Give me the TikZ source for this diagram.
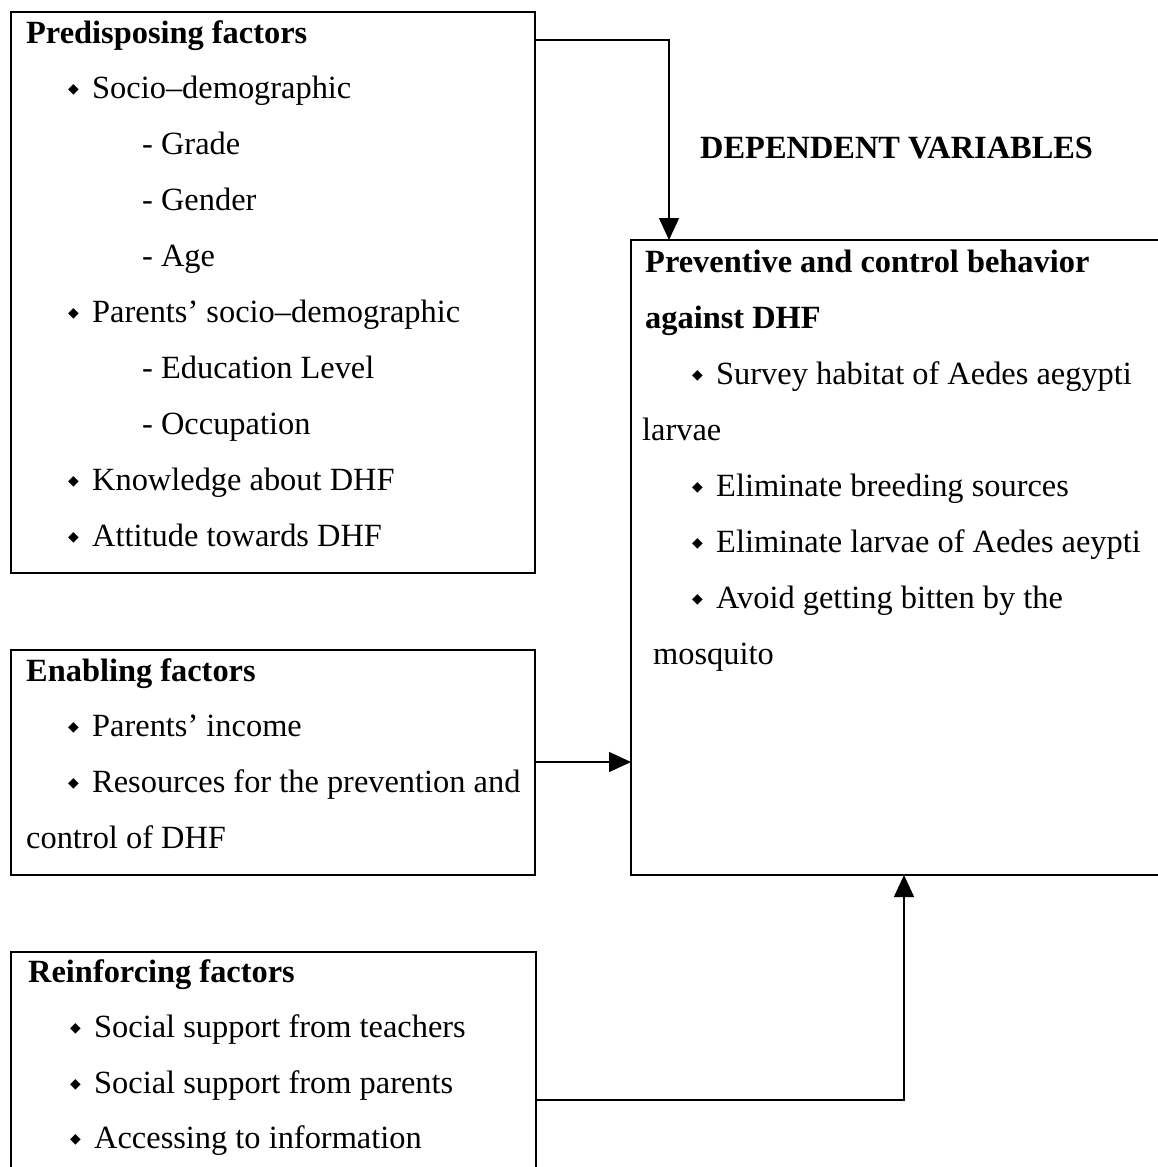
\documentclass[tikz,border=0pt]{standalone}
\usepackage{fontspec}
\setmainfont{Liberation Serif}
\newfontfamily\dejavu{DejaVu Sans}
\usetikzlibrary{arrows.meta}
\newcommand{\dmd}{\makebox[24pt][l]{\dejavu\fontsize{14}{14}\selectfont\raisebox{5pt}{◆}}}
\tikzset{
  box/.style={draw, line width=1.4pt, anchor=north west, inner sep=0pt, outer sep=0pt},
  txt/.style={anchor=base west, inner sep=0pt, font=\fontsize{32.4}{32.4}\selectfont},
  hd/.style={txt, font=\fontsize{32.4}{32.4}\selectfont\bfseries},
  conn/.style={line width=1.4pt, -{Triangle[length=22pt,width=20pt]}},
}
\begin{document}
\begin{tikzpicture}[x=1pt,y=-1pt]
\useasboundingbox (0,0) rectangle (1157,1167);
% boxes
\node[box, minimum width=524pt, minimum height=561pt] (pre) at (11,12) {};
\node[box, minimum width=524pt, minimum height=225pt] (ena) at (11,650) {};
\node[box, minimum width=525pt, minimum height=240pt] (rei) at (11,952) {};
\node[box, minimum width=560pt, minimum height=635pt] (dep) at (631,240) {};
% predisposing
\node[hd] (p0) at (26,43) {Predisposing factors};
\node[txt] (p1) at (68,98) {\dmd Socio–demographic};
\node[txt] (p2) at (142,154) {- Grade};
\node[txt] (p3) at (142,210) {- Gender};
\node[txt] (p4) at (142,266) {- Age};
\node[txt] (p5) at (68,322) {\dmd Parents’ socio–demographic};
\node[txt] (p6) at (142,378) {- Education Level};
\node[txt] (p7) at (142,434) {- Occupation};
\node[txt] (p8) at (68,490) {\dmd Knowledge about DHF};
\node[txt] (p9) at (68,546) {\dmd Attitude towards DHF};
% enabling
\node[hd] (e0) at (26,681) {Enabling factors};
\node[txt] (e1) at (68,736) {\dmd Parents’ income};
\node[txt] (e2) at (68,792) {\dmd Resources for the prevention and};
\node[txt] (e3) at (26,848) {control of DHF};
% reinforcing
\node[hd] (r0) at (28,982) {Reinforcing factors};
\node[txt] (r1) at (70,1037) {\dmd Social support from teachers};
\node[txt] (r2) at (70,1093) {\dmd Social support from parents};
\node[txt] (r3) at (70,1148) {\dmd Accessing to information};
% dependent
\node[hd] (title) at (700,158) {DEPENDENT VARIABLES};
\node[hd] (d0) at (645,272) {Preventive and control behavior};
\node[hd] (d1) at (645,328) {against DHF};
\node[txt] (d2) at (692,384) {\dmd Survey habitat of Aedes aegypti};
\node[txt] (d3) at (642,440) {larvae};
\node[txt] (d4) at (692,496) {\dmd Eliminate breeding sources};
\node[txt] (d5) at (692,552) {\dmd Eliminate larvae of Aedes aeypti};
\node[txt] (d6) at (692,608) {\dmd Avoid getting bitten by the};
\node[txt] (d7) at (653,664) {mosquito};
% connectors
\coordinate (c1) at (669,40);
\coordinate (c3) at (904,1100);
\draw[conn] (pre.east |- c1) -- (c1) -- (c1 |- dep.north);
\draw[conn] (ena.east |- 0,762) -- (dep.west |- 0,762);
\draw[conn] (rei.east |- c3) -- (c3) -- (c3 |- dep.south);
\end{tikzpicture}
\end{document}
